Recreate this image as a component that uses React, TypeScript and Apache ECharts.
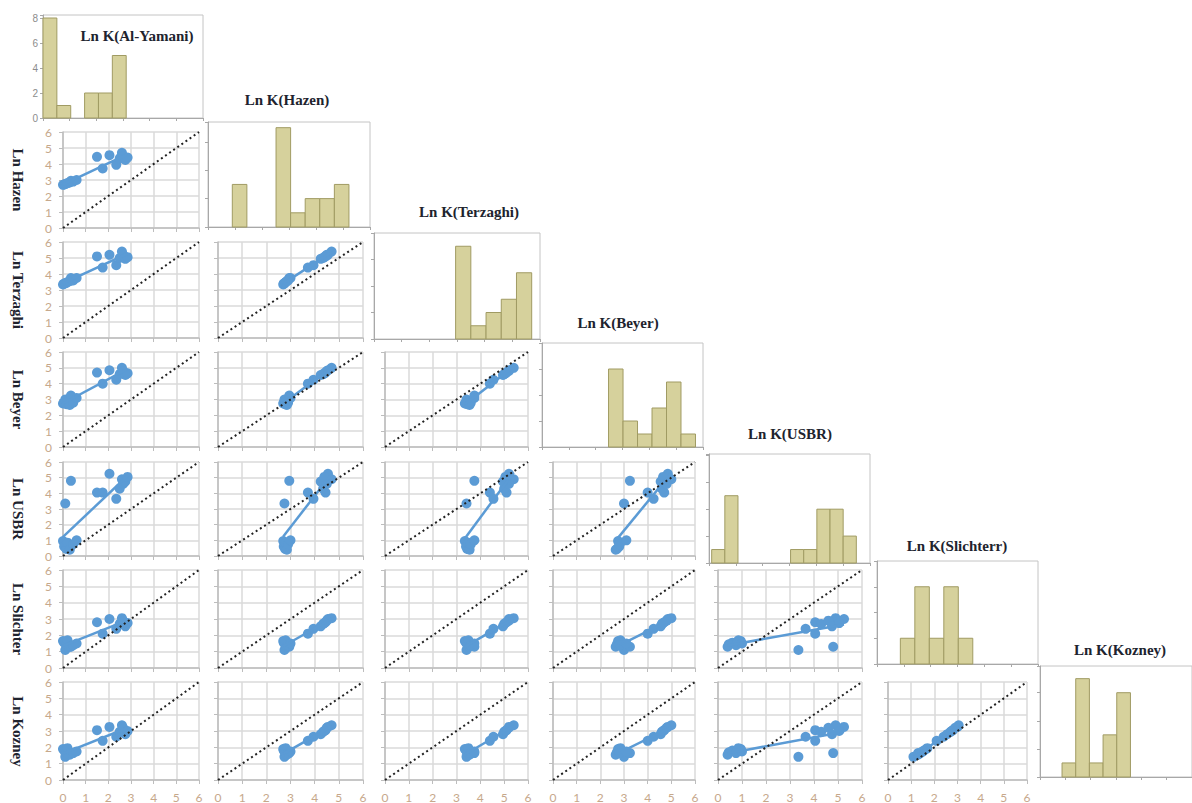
import React, { useEffect, useRef } from "react";
import * as echarts from "echarts";

// ---------- data ----------
const VAR_NAMES = ["Al-Yamani", "Hazen", "Terzaghi", "Beyer", "USBR", "Slichter", "Kozney"];
const ROW_LABELS = ["Ln Hazen", "Ln Terzaghi", "Ln Beyer", "Ln USBR", "Ln Slichter", "Ln Kozney"];
const HIST_TITLES = ["Ln K(Al-Yamani)", "Ln K(Hazen)", "Ln K(Terzaghi)", "Ln K(Beyer)", "Ln K(USBR)", "Ln K(Slichterr)", "Ln K(Kozney)"];
const AXIS_TICKS = [0, 1, 2, 3, 4, 5, 6];
const HIST_Y_TICKS = [0, 2, 4, 6, 8];

const lnAlYamani = [0.0, 0.05, 0.1, 0.15, 0.2, 0.3, 0.35, 0.45, 0.6, 1.5, 1.75, 2.05, 2.35, 2.5, 2.6, 2.65, 2.75, 2.85];
const lnHazen = [2.7, 2.72, 2.75, 2.78, 2.8, 2.85, 2.95, 2.9, 3.0, 4.45, 3.72, 4.55, 3.95, 4.35, 4.7, 4.5, 4.25, 4.4];
const lnTerzaghi = [3.35, 3.4, 3.42, 3.45, 3.5, 3.55, 3.75, 3.6, 3.75, 5.1, 4.4, 5.2, 4.55, 5.0, 5.4, 5.2, 4.95, 5.05];
const lnBeyer = [2.75, 2.8, 3.0, 2.7, 2.85, 2.65, 3.25, 2.8, 3.1, 4.7, 4.0, 4.85, 4.25, 4.6, 5.0, 4.8, 4.55, 4.65];
const lnUSBR = [0.95, 0.6, 3.35, 0.45, 0.85, 0.4, 4.8, 0.75, 1.0, 4.05, 4.05, 5.25, 3.65, 4.3, 4.9, 4.6, 4.75, 5.05];
const lnSlichter = [1.65, 1.55, 1.1, 1.45, 1.7, 1.3, 1.3, 1.4, 1.5, 2.8, 2.1, 3.0, 2.4, 2.7, 3.05, 2.9, 2.55, 2.75];
const lnKozney = [1.9, 1.8, 1.42, 1.7, 1.95, 1.55, 1.65, 1.65, 1.75, 3.05, 2.4, 3.25, 2.65, 2.95, 3.35, 3.2, 2.8, 3.0];
const SAMPLES = [lnAlYamani, lnHazen, lnTerzaghi, lnBeyer, lnUSBR, lnSlichter, lnKozney];

// histogram counts, first bin edge, bin width
const histAlYamani = [8, 1, 0, 2, 2, 5];
const histHazen = [3, 0, 0, 7, 1, 2, 2, 3];
const histTerzaghi = [7, 1, 2, 3, 5];
const histBeyer = [6, 2, 1, 3, 5, 1];
const histUSBR = [1, 5, 0, 0, 0, 0, 1, 1, 4, 4, 2];
const histSlichter = [2, 6, 2, 6, 2];
const histKozney = [1, 7, 1, 3, 6];
const HIST_COUNTS = [histAlYamani, histHazen, histTerzaghi, histBeyer, histUSBR, histSlichter, histKozney];
const histFirstEdge = [0, 0.9, 2.95, 2.48, 0.1, 0.87, 0.87];
const histBinWidth = [0.52, 0.54, 0.55, 0.54, 0.49, 0.54, 0.54];

// ---------- layout ----------
const COL_X = [[63, 199], [218, 363], [385, 528], [553, 695], [718, 862], [888, 1027]];
const ROW_Y = [[132, 228], [242, 338], [352, 447], [462, 556], [570, 668], [682, 781]];
const HIST_BOX = [
  [43, 15, 203, 118],
  [208, 122, 370, 227],
  [374, 233, 540, 339],
  [542, 343, 703, 447],
  [709, 454, 870, 563],
  [877, 561, 1038, 664],
  [1040, 666, 1201, 777],
];
const HIST_YMAX = [8.24, 7.4, 8, 8, 8.1, 8, 7.9];
const TITLE_POS = [[137, 36], [287, 100], [469, 212], [618, 323], [790, 434], [957, 546], [1120, 650]];

const BLUE = "#5b9bd5";
const LABEL_COLOR = "#c6a88b";
const SERIF = '"Liberation Serif", "Times New Roman", serif';

function regression(xs: number[], ys: number[]) {
  const n = xs.length;
  const mx = xs.reduce((a, b) => a + b, 0) / n;
  const my = ys.reduce((a, b) => a + b, 0) / n;
  let sxy = 0, sxx = 0;
  for (let i = 0; i < n; i++) {
    sxy += (xs[i] - mx) * (ys[i] - my);
    sxx += (xs[i] - mx) * (xs[i] - mx);
  }
  const b = sxy / sxx;
  const a = my - b * mx;
  const x0 = Math.min(...xs), x1 = Math.max(...xs);
  return [[x0, a + b * x0], [x1, a + b * x1]];
}

function buildOption() {
  const grid: any[] = [];
  const xAxis: any[] = [];
  const yAxis: any[] = [];
  const series: any[] = [];
  const graphic: any[] = [];
  const axMin = AXIS_TICKS[0];
  const axMax = AXIS_TICKS[AXIS_TICKS.length - 1];

  // histograms
  HIST_COUNTS.forEach((counts, k) => {
    const [x0, y0, x1, y1] = HIST_BOX[k];
    const gi = grid.length;
    grid.push({ left: x0, top: y0, width: x1 - x0, height: y1 - y0, show: true, borderColor: "#c4c4c4", borderWidth: 1, backgroundColor: "transparent" });
    xAxis.push({
      type: "value", gridIndex: gi, min: axMin, max: axMax, interval: 1,
      axisLine: { show: true, lineStyle: { color: "#a8a8a8", width: 1 } },
      axisTick: { show: true, length: 3, lineStyle: { color: "#a8a8a8" } },
      axisLabel: { show: false }, splitLine: { show: false },
    });
    yAxis.push({
      type: "value", gridIndex: gi, min: 0, max: HIST_YMAX[k], interval: 2,
      axisLine: { show: true, lineStyle: { color: "#a8a8a8", width: 1 } },
      axisTick: { show: true, length: 3, lineStyle: { color: "#a8a8a8" } },
      axisLabel: {
        show: k === 0, color: "#8c8c8c", fontSize: 10, margin: 5, fontFamily: "Liberation Sans",
        formatter: (v: number) => (HIST_Y_TICKS.indexOf(v) >= 0 ? String(v) : ""),
      },
      splitLine: { show: false },
    });
    const data = counts
      .map((c, i) => [histFirstEdge[k] + i * histBinWidth[k], histFirstEdge[k] + (i + 1) * histBinWidth[k], c])
      .filter((d) => d[2] > 0);
    series.push({
      type: "custom", xAxisIndex: gi, yAxisIndex: gi, data,
      encode: { x: [0, 1], y: 2 },
      renderItem: (params: any, api: any) => {
        const p0 = api.coord([api.value(0), api.value(2)]);
        const p1 = api.coord([api.value(1), 0]);
        return {
          type: "rect",
          shape: { x: p0[0], y: p0[1], width: p1[0] - p0[0], height: p1[1] - p0[1] },
          style: { fill: "#d6d19c", stroke: "#a09b63", lineWidth: 1 },
        };
      },
    });
    graphic.push({
      type: "text", x: TITLE_POS[k][0], y: TITLE_POS[k][1],
      style: { text: HIST_TITLES[k], align: "center", verticalAlign: "middle", font: `bold 15px ${SERIF}`, fill: "#20232e" },
    });
  });

  // scatter panels
  for (let i = 1; i < VAR_NAMES.length; i++) {
    const r = i - 1;
    for (let j = 0; j < i; j++) {
      const [x0, x1] = COL_X[j];
      const [y0, y1] = ROW_Y[r];
      const gi = grid.length;
      grid.push({ left: x0, top: y0, width: x1 - x0, height: y1 - y0, show: false });
      xAxis.push({
        type: "value", gridIndex: gi, min: axMin, max: axMax, interval: 1,
        axisLine: { show: true, lineStyle: { color: "#bdbdbd", width: 1.5 } },
        axisTick: { show: true, length: 4, lineStyle: { color: "#bdbdbd" } },
        axisLabel: { show: r === ROW_LABELS.length - 1, color: LABEL_COLOR, fontSize: 12, margin: 11, fontFamily: "Lato" },
        splitLine: { show: true, lineStyle: { color: "#dadada", width: 1.5 } },
      });
      yAxis.push({
        type: "value", gridIndex: gi, min: axMin, max: axMax, interval: 1,
        axisLine: { show: true, lineStyle: { color: "#bdbdbd", width: 1.5 } },
        axisTick: { show: true, length: 4, lineStyle: { color: "#bdbdbd" } },
        axisLabel: { show: j === 0, color: LABEL_COLOR, fontSize: 12, margin: 11, fontFamily: "Lato" },
        splitLine: { show: true, lineStyle: { color: "#dadada", width: 1.5 } },
      });
      const xs = SAMPLES[j];
      const ys = SAMPLES[i];
      series.push({
        type: "scatter", xAxisIndex: gi, yAxisIndex: gi, symbolSize: 10,
        itemStyle: { color: BLUE, opacity: 1 },
        data: xs.map((x, n) => [x, ys[n]]), z: 3,
      });
      series.push({
        type: "line", xAxisIndex: gi, yAxisIndex: gi, showSymbol: false, symbol: "none",
        lineStyle: { color: BLUE, width: 2.5 }, data: regression(xs, ys), z: 4,
      });
      series.push({
        type: "line", xAxisIndex: gi, yAxisIndex: gi, showSymbol: false, symbol: "none",
        lineStyle: { color: "#222", width: 2, type: [2, 3] }, data: [[axMin, axMin], [axMax, axMax]], z: 5,
      });
    }
    graphic.push({
      type: "text", x: 18, y: (ROW_Y[r][0] + ROW_Y[r][1]) / 2, rotation: -Math.PI / 2,
      style: { text: ROW_LABELS[r], align: "center", verticalAlign: "middle", font: `bold 15px ${SERIF}`, fill: "#20232e" },
    });
  }

  return { animation: false, backgroundColor: "#ffffff", grid, xAxis, yAxis, series, graphic };
}

export default function App() {
  const ref = useRef<HTMLDivElement>(null);
  useEffect(() => {
    if (!ref.current) return;
    const chart = echarts.init(ref.current, undefined, { renderer: "svg" });
    chart.setOption(buildOption() as any);
    return () => chart.dispose();
  }, []);
  return (
    <div
      ref={ref}
      style={{ position: "fixed", left: 0, top: 0, width: 1192, height: 803, background: "#fff" }}
    />
  );
}
